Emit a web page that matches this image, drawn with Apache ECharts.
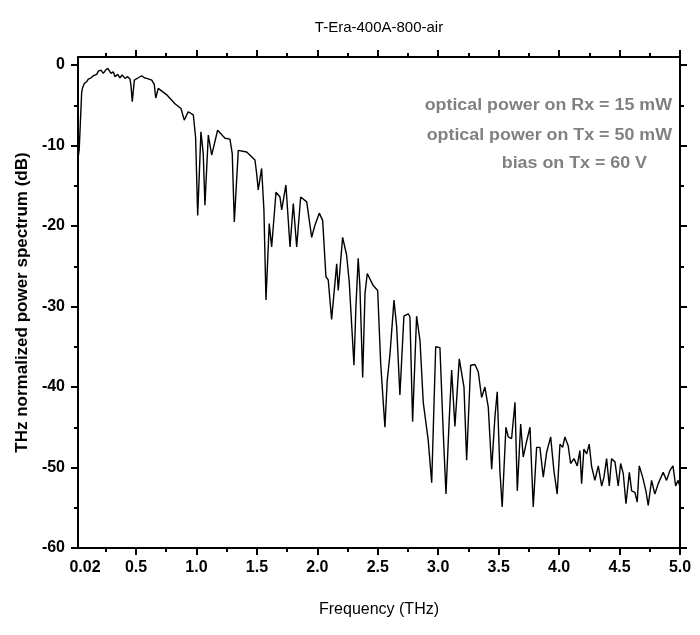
<!DOCTYPE html>
<html><head><meta charset="utf-8">
<script src="https://cdn.jsdelivr.net/npm/echarts@6/dist/echarts.min.js"></script>
<style>html,body{margin:0;padding:0;background:#fff}#c{width:700px;height:635px}</style>
</head><body><div id="c"></div>
<script>
const chartTitle = 'T-Era-400A-800-air';
const xName = 'Frequency (THz)';
const yName = 'THz normalized power spectrum (dB)';
const notes = ['optical power on Rx = 15 mW', 'optical power on Tx = 50 mW', 'bias on Tx = 60 V'];

const frequency = [0.02,0.03,0.04,0.05,0.056,0.072,0.092,0.105,0.128,0.147,0.161,0.175,0.188,0.21,0.229,0.249,0.266,0.279,0.293,0.312,
0.326,0.348,0.367,0.386,0.409,0.431,0.45,0.458,0.469,0.486,0.519,0.547,0.568,0.588,0.607,
0.63,0.651,0.663,0.684,0.754,0.822,0.872,0.899,0.932,0.974,0.993,1.01,1.037,1.056,1.07,1.098,1.126,1.175,1.236,1.277,
1.296,1.313,1.346,1.415,1.484,1.498,1.511,1.539,1.558,1.575,1.602,1.622,1.658,1.691,1.705,1.74,1.774,1.801,1.829,1.862,
1.912,1.953,1.98,2.016,2.044,2.071,2.09,2.118,2.16,2.173,2.209,2.242,2.264,2.303,2.319,2.338,2.352,2.375,2.394,2.413,
2.462,2.499,2.524,2.559,2.578,2.601,2.634,2.656,2.683,2.716,2.752,2.766,2.788,2.821,2.849,2.876,2.917,2.946,2.979,3.014,
3.042,3.064,3.091,3.111,3.138,3.174,3.213,3.235,3.268,3.304,3.331,3.359,3.386,3.414,3.442,3.469,3.488,3.51,3.529,3.56,
3.579,3.607,3.635,3.654,3.682,3.703,3.726,3.759,3.786,3.814,3.841,3.869,3.897,3.93,3.957,3.984,4.007,4.029,4.048,4.075,
4.095,4.123,4.15,4.172,4.186,4.205,4.228,4.249,4.269,4.296,4.324,4.352,4.371,4.393,4.415,4.434,4.462,4.489,4.509,4.531,
4.553,4.581,4.6,4.627,4.646,4.663,4.691,4.718,4.737,4.765,4.792,4.82,4.861,4.889,4.916,4.942,4.964,4.984,4.998];

const power = [-11.6,-10.5,-7,-3.5,-2.9,-2.28,-2.07,-1.74,-1.58,-1.33,-1.45,-1.16,-0.75,-0.62,-1.03,-0.62,-0.41,-0.62,-1.03,-0.83,
-1.45,-1.16,-1.58,-1.24,-1.65,-1.45,-1.74,-2.5,-4.56,-1.87,-1.58,-1.33,-1.58,-1.65,-1.74,
-1.87,-2.4,-4.1,-2.9,-3.7,-4.8,-5.4,-6.84,-5.8,-6.2,-9,-18.7,-8.3,-11,-17.4,-8.7,-11.2,-8.1,-9.1,-9.2,
-11,-19.5,-10.6,-10.8,-11.8,-13.5,-15.5,-12.85,-18,-29.2,-19.7,-22.6,-15.8,-16.4,-18.0,-14.9,-22.6,-17.2,-22.6,-16.4,
-17.0,-21.4,-19.9,-18.4,-19.3,-26.3,-26.7,-31.6,-24.7,-28,-21.4,-23.6,-27,-37.3,-30.1,-24.0,-27.5,-38.8,-28.4,-25.9,
-27.4,-28.0,-37.1,-45.0,-39.2,-35.9,-29.2,-32.5,-41,-31.2,-30.9,-31.3,-44.3,-31.2,-34.2,-41.9,-46.6,-51.9,-35.0,-35.1,
-45.8,-53.3,-44,-37.9,-44.9,-36.5,-40.0,-49.1,-37.3,-37.2,-38.1,-41.3,-40.0,-42.5,-50.2,-43.7,-40.6,-50.4,-54.9,-45.0,
-46.2,-46.4,-41.9,-52.9,-44.6,-48.7,-47.1,-45.0,-54.9,-47.5,-47.5,-51.2,-48.1,-46.2,-50.4,-53.3,-47.1,-47.5,-46.2,-47.3,
-49.5,-48.9,-49.8,-47.9,-52.0,-47.7,-48.3,-47.1,-49.9,-51.6,-49.8,-52.3,-51.2,-48.9,-52.3,-48.9,-49.3,-52.3,-49.5,-50.8,
-54.5,-50.6,-52.9,-53.1,-54.3,-49.8,-51.2,-52.9,-54.7,-51.6,-53.3,-52.0,-50.6,-51.6,-50.4,-49.8,-52.3,-51.6,-52.3];

const xLabelValues = [0.02,0.5,1.0,1.5,2.0,2.5,3.0,3.5,4.0,4.5,5.0];
const xMajorTicks = [0.5,1.0,1.5,2.0,2.5,3.0,3.5,4.0,4.5,5.0];
const xMinorTicks = [0.25,0.75,1.25,1.75,2.25,2.75,3.25,3.75,4.25,4.75];
const yLabelValues = [0,-10,-20,-30,-40,-50,-60];
const yMinorTicks = [-5,-15,-25,-35,-45,-55];

const FONT = '"Liberation Sans", Arial, sans-serif';
const X_MIN = 0.02, X_MAX = 5.0, Y_MIN = -60, Y_MAX = 1;

function xAx(pos, ticks, len, showLine, labels) {
  const a = {
    type: 'value', position: pos, min: X_MIN, max: X_MAX,
    axisLine: {show: showLine, onZero: false, lineStyle: {color: '#000', width: 2}},
    axisTick: {show: true, inside: false, customValues: ticks, length: len, lineStyle: {color: '#000', width: 2}},
    axisLabel: {show: false},
    splitLine: {show: false}
  };
  if (labels) {
    a.axisLabel = {
      show: true, customValues: xLabelValues, margin: 12,
      color: '#000', fontSize: 16, fontWeight: 'bold', fontFamily: FONT,
      formatter: v => (Math.abs(v - 0.02) < 1e-9 ? '{a|0.02}' : v.toFixed(1)),
      rich: {a: {padding: [0, 0, 0, 14], color: '#000', fontSize: 16, fontWeight: 'bold', fontFamily: FONT}}
    };
    a.name = xName; a.nameLocation = 'middle'; a.nameGap = 54;
    a.nameTextStyle = {color: '#000', fontSize: 16, fontFamily: FONT};
  }
  return a;
}
function yAx(pos, ticks, len, showLine, labels) {
  const a = {
    type: 'value', position: pos, min: Y_MIN, max: Y_MAX,
    axisLine: {show: showLine, onZero: false, lineStyle: {color: '#000', width: 2}},
    axisTick: {show: true, inside: false, customValues: ticks, length: len, lineStyle: {color: '#000', width: 2}},
    axisLabel: {show: false},
    splitLine: {show: false}
  };
  if (labels) {
    a.axisLabel = {
      show: true, customValues: yLabelValues, margin: 13,
      color: '#000', fontSize: 16, fontWeight: 'bold', fontFamily: FONT,
      formatter: v => String(v)
    };
    a.name = yName; a.nameLocation = 'middle'; a.nameGap = 47;
    a.nameTextStyle = {color: '#000', fontSize: 17, fontWeight: 'bold', fontFamily: FONT};
  }
  return a;
}

function note(text, x, y) {
  return {type: 'text', x: x, y: y, scaleX: 1.115, originX: 0, originY: 0,
    style: {text: text, align: 'right', verticalAlign: 'middle', textAlign: 'right', textVerticalAlign: 'middle',
      fontSize: 16, fontWeight: 'bold', fontFamily: FONT, fill: '#808080'}};
}

const chart = echarts.init(document.getElementById('c'), null, {renderer: 'canvas'});
chart.setOption({
  animation: false,
  backgroundColor: '#fff',
  grid: {left: 78, right: 20, top: 57, bottom: 87, containLabel: false},
  xAxis: [
    xAx('bottom', xMajorTicks, 7, true, true),
    xAx('bottom', xMinorTicks, 4, false, false),
    xAx('top', xMajorTicks, 7, true, false),
    xAx('top', xMinorTicks, 4, false, false)
  ],
  yAxis: [
    yAx('left', yLabelValues, 7, true, true),
    yAx('left', yMinorTicks, 4, false, false),
    yAx('right', yLabelValues, 7, true, false),
    yAx('right', yMinorTicks, 4, false, false)
  ],
  graphic: [
    {type: 'text', x: 379, y: 28, style: {text: chartTitle, align: 'center', verticalAlign: 'middle', textAlign: 'center', textVerticalAlign: 'middle', fontSize: 15, fontFamily: FONT, fill: '#000'}},
    note(notes[0], 672, 106),
    note(notes[1], 672, 136),
    note(notes[2], 647, 164)
  ],
  series: [{
    type: 'line', xAxisIndex: 0, yAxisIndex: 0,
    data: frequency.map((f, i) => [f, power[i]]),
    showSymbol: false, symbol: 'none',
    lineStyle: {color: '#000', width: 1.4},
    z: 5
  }]
});
</script></body></html>
